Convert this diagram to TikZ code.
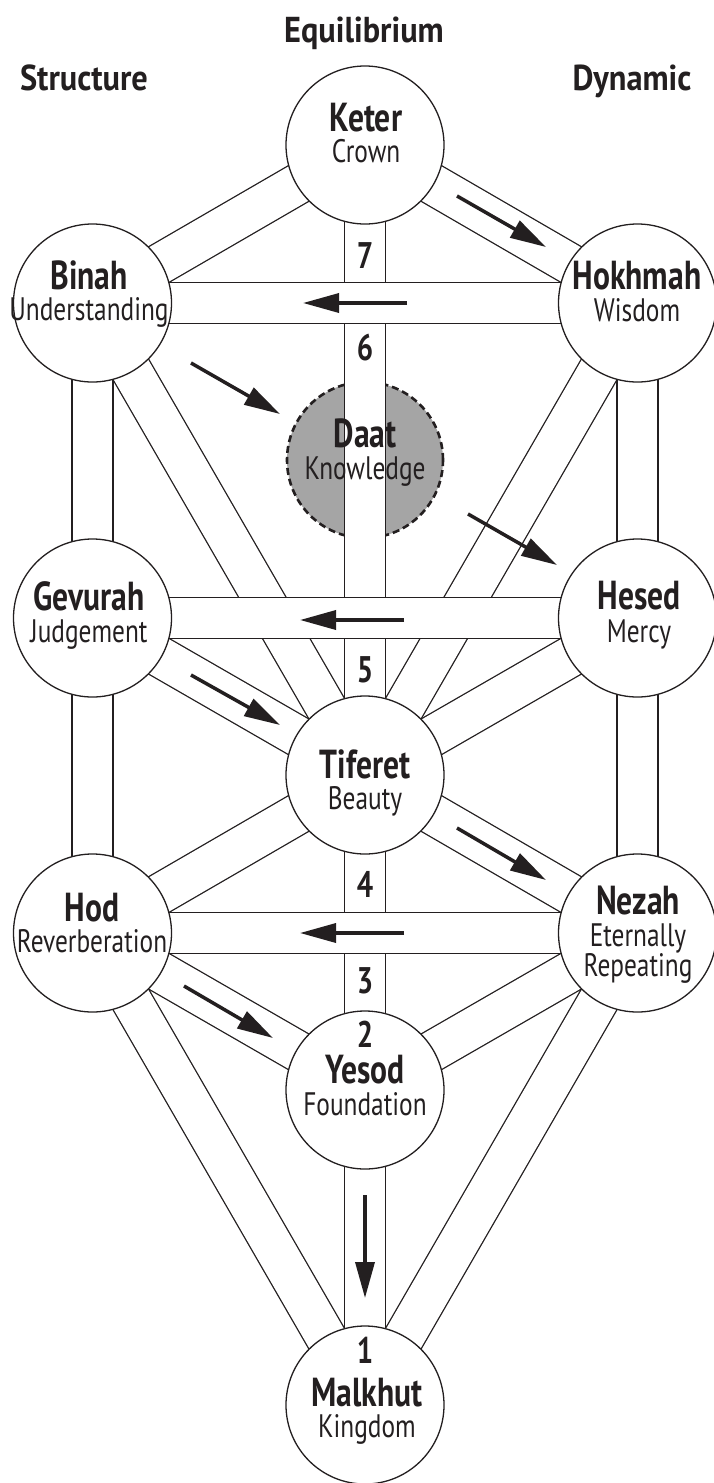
\documentclass[tikz,border=0pt]{standalone}
\usepackage{fontspec}
\setmainfont{PT Sans}[FakeStretch=0.78]
\newfontfamily\headfont{PT Sans}[FakeStretch=0.9]
\usetikzlibrary{arrows.meta}
\pgfdeclarelayer{base}
\pgfdeclarelayer{paths}
\pgfdeclarelayer{bands}
\pgfsetlayers{base,paths,bands,main}
\definecolor{ink}{RGB}{35,31,32}
\definecolor{daatgray}{RGB}{165,165,165}
\begin{document}
\begin{tikzpicture}[x=1pt,y=-1pt,
  sefira/.style={circle,draw=ink,fill=white,line width=1.3pt,minimum size=158pt,inner sep=0pt},
  veiled/.style={circle,draw=ink,fill=daatgray,line width=2.6pt,dash pattern=on 7pt off 4pt,minimum size=156pt,inner sep=0pt},
  channel/.style={draw=ink,line width=1.3pt,double=white,double distance=39.7pt},
  flow/.style={draw=ink,line width=3.5pt,-{Triangle[length=36pt,width=19pt]}},
  sname/.style={font=\bfseries\fontsize{40.5}{41}\selectfont,text=ink,inner sep=0pt,anchor=base},
  gloss/.style={font=\fontsize{32.5}{33}\selectfont,text=ink,inner sep=0pt,anchor=base},
  heading/.style={font=\headfont\bfseries\fontsize{36}{38}\selectfont,text=ink,inner sep=0pt,anchor=base},
  pathnum/.style={font=\bfseries\fontsize{37}{38}\selectfont,text=ink,inner sep=0pt,anchor=base}]
\useasboundingbox (0,0) rectangle (713,1483);

% the ten sefirot
\node[sefira] (keter)   at (365,145)   {};
\node[sefira] (binah)   at (92.5,303)  {};
\node[sefira] (hokhmah) at (637.5,303) {};
\node[sefira] (gevurah) at (92.5,618)  {};
\node[sefira] (hesed)   at (637.5,618) {};
\node[sefira] (tiferet) at (365,775)   {};
\node[sefira] (hod)     at (92.5,933)  {};
\node[sefira] (nezah)   at (637.5,933) {};
\node[sefira] (yesod)   at (365,1090)  {};
\node[sefira] (malkhut) at (365,1405)  {};

% the hidden sefira, beneath the middle pillar
\begin{pgfonlayer}{base}
\node[veiled] (daat) at (365,460) {};
\end{pgfonlayer}

% diagonal and vertical paths
\begin{pgfonlayer}{paths}
\foreach \a/\b in {keter/binah, keter/hokhmah, binah/tiferet, hokhmah/tiferet,
    gevurah/tiferet, hesed/tiferet, tiferet/hod, tiferet/nezah, hod/yesod,
    nezah/yesod, hod/malkhut, nezah/malkhut, binah/gevurah, gevurah/hod,
    hokhmah/hesed, hesed/nezah, keter/tiferet, tiferet/yesod, yesod/malkhut}
  \draw[channel] (\a.center) -- (\b.center);
\end{pgfonlayer}

% horizontal paths lie over the others
\begin{pgfonlayer}{bands}
\foreach \a/\b in {binah/hokhmah, gevurah/hesed, hod/nezah}
  \draw[channel] (\a.center) -- (\b.center);
\end{pgfonlayer}

% direction of the flow
\coordinate (f1a) at (457,196);  \coordinate (f1b) at (546,247);
\coordinate (f2a) at (407,303);  \coordinate (f2b) at (303,303);
\coordinate (f3a) at (191,363);  \coordinate (f3b) at (280,414);
\coordinate (f4a) at (468,514);  \coordinate (f4b) at (557,565);
\coordinate (f5a) at (404,620);  \coordinate (f5b) at (300,620);
\coordinate (f6a) at (191,675);  \coordinate (f6b) at (280,725);
\coordinate (f7a) at (457,828);  \coordinate (f7b) at (546,880);
\coordinate (f8a) at (404,933);  \coordinate (f8b) at (300,933);
\coordinate (f9a) at (184,986);  \coordinate (f9b) at (273,1038);
\coordinate (f10a) at (365,1195); \coordinate (f10b) at (365,1298);
\foreach \i in {1,...,10}
  \draw[flow] (f\i a) -- (f\i b);

% pillar headings
\node[heading] (h-eq) at (364,42) {Equilibrium};
\node[heading] (h-st) at (84,90)  {Structure};
\node[heading] (h-dy) at (632,90) {Dynamic};

% names and meanings
\node[sname] (keter-n)   at (366,131)  {Keter};
\node[gloss] (keter-g)   at (366,162)  {Crown};
\node[sname] (binah-n)   at (89,289)   {Binah};
\node[gloss] (binah-g)   at (89,320)   {Understanding};
\node[sname] (hokhmah-n) at (637,289)  {Hokhmah};
\node[gloss] (hokhmah-g) at (637,321)  {Wisdom};
\node[sname] (daat-n)    at (365,447)  {Daat};
\node[gloss] (daat-g)    at (365,479)  {Knowledge};
\node[sname] (gevurah-n) at (89,610)   {Gevurah};
\node[gloss] (gevurah-g) at (89,642)   {Judgement};
\node[sname] (hesed-n)   at (639,609)  {Hesed};
\node[gloss] (hesed-g)   at (639,642)  {Mercy};
\node[sname] (tiferet-n) at (365,778)  {Tiferet};
\node[gloss] (tiferet-g) at (365,809)  {Beauty};
\node[sname] (hod-n)     at (92,921)   {Hod};
\node[gloss] (hod-g)     at (92,952)   {Reverberation};
\node[sname] (nezah-n)   at (638,914)  {Nezah};
\node[gloss] (nezah-g1)  at (638,946)  {Eternally};
\node[gloss] (nezah-g2)  at (638,976)  {Repeating};
\node[sname] (yesod-n)   at (365,1083) {Yesod};
\node[gloss] (yesod-g)   at (365,1115) {Foundation};
\node[sname] (malkhut-n) at (367,1406) {Malkhut};
\node[gloss] (malkhut-g) at (367,1437) {Kingdom};

% numbers along the middle pillar
\node[pathnum] (n7) at (365,268)  {7};
\node[pathnum] (n6) at (365,360)  {6};
\node[pathnum] (n5) at (365,682)  {5};
\node[pathnum] (n4) at (365,897)  {4};
\node[pathnum] (n3) at (365,993)  {3};
\node[pathnum] (n2) at (365,1047) {2};
\node[pathnum] (n1) at (365,1363) {1};
\end{tikzpicture}
\end{document}
